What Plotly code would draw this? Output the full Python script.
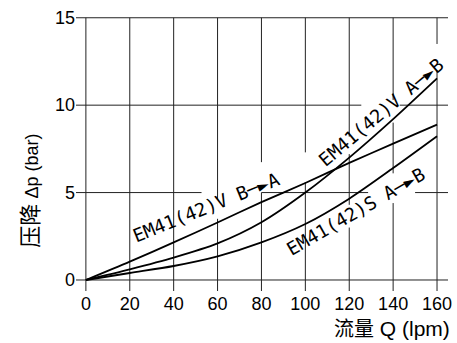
import plotly.graph_objects as go

# ---- data ----
flow = [0, 20, 40, 60, 80, 100, 120, 140, 160]
v_b_to_a = [0, 1.05, 2.15, 3.29, 4.45, 5.55, 6.7, 7.8, 8.89]
v_a_to_b = [0, 0.61, 1.28, 2.09, 3.3, 5.0, 7.0, 9.2, 11.53]
s_a_to_b = [0, 0.4, 0.8, 1.35, 2.15, 3.2, 4.65, 6.4, 8.22]
x_ticks = [0, 20, 40, 60, 80, 100, 120, 140, 160]
y_ticks = [0, 5, 10, 15]
curve_labels = ["EM41(42)V B\u2500\u25baA", "EM41(42)V A\u2500\u25baB", "EM41(42)S A\u2500\u25baB"]

X_MIN, X_MAX = -4.5, 165
Y_MIN, Y_MAX = -0.63, 15

fig = go.Figure()

for ys in (v_b_to_a, v_a_to_b, s_a_to_b):
    fig.add_trace(go.Scatter(x=flow, y=ys, mode="lines",
                             line=dict(color="black", width=1.8, shape="spline", smoothing=0.8),
                             hoverinfo="skip", showlegend=False))

# grid lines with gaps where labels sit (gaps in data units)
h_gaps = {0: [], 5: [(52.7, 80), (128.6, 150)], 10: [(125.5, 143)], 15: []}
v_gaps = {0: [], 20: [], 40: [], 60: [(3.5, 4.6)], 80: [(5.0, 6.74)],
          100: [(5.6, 7.3)], 120: [(3.0, 4.3), (7.2, 8.2)],
          140: [(4.4, 6.1), (9.0, 10.3)], 160: [(12.0, 13.5)]}

def segments(lo, hi, gaps):
    segs, cur = [], lo
    for a, b in sorted(gaps):
        segs.append((cur, a))
        cur = b
    segs.append((cur, hi))
    return segs

shapes = []
gl = dict(color="#222222", width=1)
for yv, gaps in h_gaps.items():
    for a, b in segments(X_MIN, X_MAX, gaps):
        shapes.append(dict(type="line", xref="x", yref="y", x0=a, x1=b, y0=yv, y1=yv,
                           line=gl, layer="below"))
for xv, gaps in v_gaps.items():
    for a, b in segments(Y_MIN, Y_MAX, gaps):
        shapes.append(dict(type="line", xref="x", yref="y", x0=xv, x1=xv, y0=a, y1=b,
                           line=gl, layer="below"))

lab_font = dict(family="DejaVu Sans Mono", size=18.5, color="black")
annotations = [
    dict(x=54.7, y=4.15, text=curve_labels[0], textangle=-22),
    dict(x=134.4, y=9.6, text=curve_labels[1], textangle=-40),
    dict(x=123.1, y=3.9, text=curve_labels[2], textangle=-30),
]
annotations = [dict(a, xref="x", yref="y", showarrow=False, font=lab_font,
                    xanchor="center", yanchor="middle") for a in annotations]

annotations.append(dict(
    xref="paper", yref="paper", x=-0.13, y=0.3636, textangle=-90,
    xanchor="center", yanchor="middle", showarrow=False,
    text="<span style='font-family:Noto Sans CJK SC;font-size:22px'>压降</span> "
         "<span style='font-size:18px'>Δp (bar)</span>",
    font=dict(family="Liberation Sans", size=18, color="black")))
annotations.append(dict(
    xref="paper", yref="paper", x=1.0106, y=-0.1345,
    xanchor="right", yanchor="middle", showarrow=False,
    text="<span style='font-family:Noto Sans CJK SC;font-size:20px'>流量</span> "
         "<span style='font-size:21px'>Q (lpm)</span>",
    font=dict(family="Liberation Sans", size=21, color="black")))

fig.update_layout(
    width=457, height=343,
    margin=dict(l=76, r=5, t=16, b=52),
    plot_bgcolor="white", paper_bgcolor="white",
    shapes=shapes, annotations=annotations,
    xaxis=dict(range=[X_MIN, X_MAX], tickvals=x_ticks, ticktext=[str(v) for v in x_ticks],
               showgrid=False, zeroline=False, showline=False, ticks="",
               tickfont=dict(family="Liberation Sans", size=18, color="black")),
    yaxis=dict(range=[Y_MIN, Y_MAX + 0.1], tickvals=y_ticks, ticktext=[str(v) for v in y_ticks],
               showgrid=False, zeroline=False, showline=False, ticks="",
               tickfont=dict(family="Liberation Sans", size=18, color="black")),
)

fig.write_html("out.html")
